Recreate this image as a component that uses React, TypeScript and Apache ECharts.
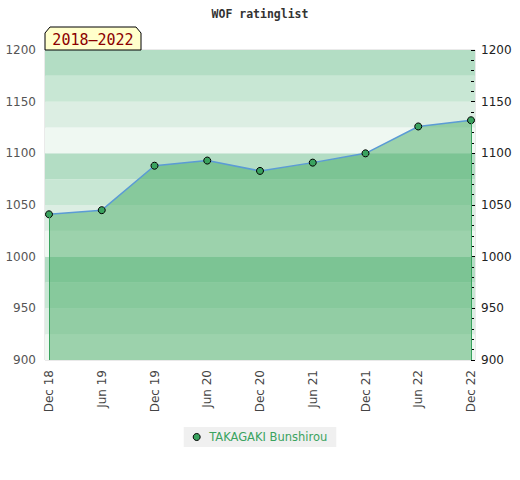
import React, { useEffect, useRef } from "react";
import * as echarts from "echarts";

const categories = ["Dec 18", "Jun 19", "Dec 19", "Jun 20", "Dec 20", "Jun 21", "Dec 21", "Jun 22", "Dec 22"];
const ratings = [1041, 1045, 1088, 1093, 1083, 1091, 1100, 1126, 1132];
const seriesName = "TAKAGAKI Bunshirou";
const titleText = "WOF ratinglist";
const periodText = "2018\u20132022";
const yMin = 900;
const yMax = 1200;

const GREEN = "#3aa35f";

export default function App() {
  const ref = useRef<HTMLDivElement>(null);
  useEffect(() => {
    document.body.style.margin = "0";
    const chart = echarts.init(ref.current!, null, { renderer: "svg" });
    const last = categories.length - 1;
    const fmt = (v: number) => String(v);
    chart.setOption({
      animation: false,
      title: {
        text: titleText,
        left: "center",
        top: 3,
        textStyle: { fontFamily: "DejaVu Sans Mono", fontSize: 11.5, fontWeight: "bold", color: "#333" },
      },
      grid: [
        { left: 45, top: 50, width: 430, height: 310, show: true, borderColor: "#d4d4d4", borderWidth: 1, backgroundColor: "transparent" },
        { left: 49, top: 50, width: 422, height: 310 },
      ],
      xAxis: [
        { type: "value", gridIndex: 0, min: 0, max: 1, show: false },
        {
          type: "category",
          gridIndex: 1,
          data: categories,
          boundaryGap: false,
          axisLine: { show: false },
          axisTick: { show: false },
          axisLabel: { rotate: 90, margin: 10, fontFamily: "DejaVu Sans", fontSize: 12, color: "#444", interval: 0 },
        },
      ],
      yAxis: [
        {
          type: "value",
          gridIndex: 0,
          min: yMin,
          max: yMax,
          interval: 25,
          axisLine: { show: false },
          axisTick: { show: false },
          axisLabel: { show: false },
          splitLine: { show: false },
          splitArea: { show: true, areaStyle: { color: ["#eff8f2", "#dceee3", "#c8e7d4", "#b3ddc4"] } },
        },
        {
          type: "value",
          gridIndex: 1,
          min: yMin,
          max: yMax,
          interval: 50,
          position: "left",
          axisLine: { show: false },
          axisTick: { show: false },
          splitLine: { show: false },
          axisLabel: { margin: 13, fontFamily: "DejaVu Sans", fontSize: 12, color: "#555", formatter: fmt },
        },
        {
          type: "value",
          gridIndex: 1,
          min: yMin,
          max: yMax,
          interval: 50,
          position: "right",
          axisLine: { show: false },
          axisTick: { show: true, length: 4, lineStyle: { color: "#000" } },
          minorTick: { show: true, splitNumber: 5, length: 3, lineStyle: { color: "#000" } },
          splitLine: { show: false },
          axisLabel: { margin: 10, fontFamily: "DejaVu Sans", fontSize: 12, color: "#222", formatter: fmt },
        },
      ],
      legend: {
        bottom: 33,
        left: "center",
        backgroundColor: "#f0f0f0",
        padding: [4, 9, 4, 9],
        icon: "circle",
        itemWidth: 7,
        itemHeight: 7,
        itemStyle: { color: GREEN, borderColor: "#000", borderWidth: 1 },
        textStyle: { fontFamily: "DejaVu Sans", fontSize: 11.5, color: GREEN, padding: [0, 0, 0, 4] },
        data: [seriesName],
      },
      graphic: [
        {
          type: "polygon",
          z: 100,
          shape: { points: [[45, 50], [45, 33], [50, 27], [136, 27], [141, 33], [141, 50]] },
          style: { fill: "#ffffcc", stroke: "#000", lineWidth: 1 },
        },
        {
          type: "text",
          z: 101,
          x: 93,
          y: 40,
          style: {
            text: periodText,
            fill: "#8b0000",
            font: "15px 'DejaVu Sans Mono'",
            textAlign: "center",
            textVerticalAlign: "middle",
          },
        },
      ],
      series: [
        {
          name: seriesName,
          type: "line",
          xAxisIndex: 1,
          yAxisIndex: 1,
          data: ratings,
          symbol: "circle",
          symbolSize: 7,
          itemStyle: { color: GREEN, borderColor: "#000", borderWidth: 1 },
          lineStyle: { color: "#5b9bd5", width: 1.5 },
          areaStyle: { color: "rgb(64,169,96)", opacity: 0.48, origin: "start" },
          markLine: {
            silent: true,
            symbol: ["none", "none"],
            label: { show: false },
            lineStyle: { color: GREEN, width: 1, type: "solid" },
            data: [
              [{ coord: [categories[0], yMin] }, { coord: [categories[0], ratings[0]] }],
              [{ coord: [categories[last], yMin] }, { coord: [categories[last], ratings[last]] }],
            ],
          },
        },
      ],
    });
    return () => chart.dispose();
  }, []);
  return <div ref={ref} style={{ width: 520, height: 480 }} />;
}
